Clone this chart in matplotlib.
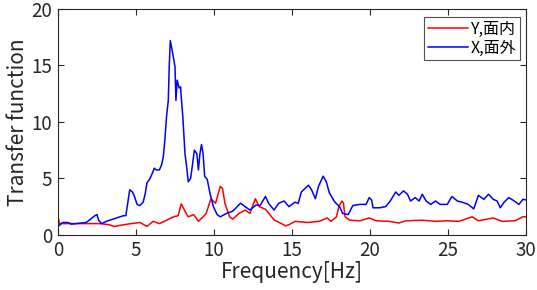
import numpy as np
import matplotlib.pyplot as plt

plt.rcParams['font.family'] = ['Noto Sans CJK JP', 'DejaVu Sans']

# X, out of plane (blue)
freq_x = [0, 0.3, 0.64, 0.86, 1.8, 2.0, 2.36, 2.5, 2.6, 2.8, 3.1, 3.75, 4.2, 4.35, 4.5, 4.6,
          4.77, 4.9, 5.07, 5.25, 5.46, 5.6, 5.7, 5.9, 6.06, 6.17, 6.3, 6.5, 6.64, 6.75, 6.85,
          6.96, 7.07, 7.13, 7.2, 7.35, 7.5, 7.56, 7.64, 7.77, 7.86, 7.9, 8.0, 8.14, 8.25, 8.35,
          8.5, 8.63, 8.74, 8.9, 9.0, 9.1, 9.2, 9.3, 9.4, 9.57, 9.74, 9.96, 10.2, 10.4, 10.8,
          11.2, 11.7, 12.0, 12.3, 12.7, 12.95, 13.3, 13.5, 13.85, 14.15, 14.5, 14.8, 15.2,
          15.4, 15.6, 16.05, 16.25, 16.5, 16.7, 17.0, 17.2, 17.4, 17.75, 18.05, 18.25, 18.6,
          18.9, 19.35, 19.75, 19.95, 20.1, 20.2, 20.6, 21.0, 21.3, 21.65, 21.85, 22.15, 22.4,
          22.6, 22.9, 23.15, 23.35, 23.6, 23.9, 24.2, 24.5, 24.95, 25.25, 25.6, 25.9, 26.3,
          26.65, 26.95, 27.3, 27.6, 27.9, 28.15, 28.35, 28.6, 28.9, 29.25, 29.55, 29.8, 30]
tf_x = [0.74, 1.1, 1.1, 0.95, 1.1, 1.3, 1.7, 1.8, 1.3, 1.0, 1.2, 1.5, 1.7, 1.7, 3.1, 4.0,
        3.8, 3.4, 2.7, 2.6, 2.9, 3.7, 4.6, 5.0, 5.5, 5.9, 5.75, 5.75, 6.2, 6.9, 8.4,
        10.5, 11.9, 14.9, 17.2, 16.1, 14.9, 11.9, 13.7, 13.0, 13.1, 12.2, 10.5, 7.2, 6.0, 4.7,
        5.0, 6.3, 7.5, 7.2, 5.75, 7.2, 8.0, 7.2, 5.2, 4.9, 3.7, 2.5, 1.8, 1.6, 1.9,
        2.1, 2.8, 2.5, 2.2, 2.65, 2.6, 3.4, 2.8, 2.2, 2.8, 3.0, 2.5, 2.9,
        2.8, 3.8, 4.4, 4.0, 3.2, 4.3, 5.2, 4.7, 3.7, 2.9, 2.5, 1.9, 1.8,
        2.6, 2.7, 2.7, 3.3, 3.1, 2.4, 2.4, 2.5, 3.0, 3.8, 3.5, 3.9, 3.6,
        3.0, 3.3, 3.0, 3.6, 3.0, 2.7, 3.0, 2.7, 2.7, 3.4, 3.0, 2.9, 2.7,
        2.3, 3.5, 3.15, 3.6, 3.15, 3.0, 2.4, 2.9, 3.3, 3.0, 2.7, 3.15, 3.1]

# Y, in plane (red)
freq_y = [0, 0.1, 1.2, 2.7, 3.3, 3.6, 4.2, 4.7, 5.25, 5.7, 6.1, 6.5, 6.96, 7.4, 7.7, 7.9,
          8.14, 8.35, 8.7, 9.0, 9.3, 9.5, 9.8, 10.1, 10.4, 10.55, 10.7, 11.0, 11.2, 11.6,
          12.0, 12.3, 12.65, 12.9, 13.3, 13.85, 14.6, 14.8, 15.2, 16.0, 16.75, 17.25, 17.5,
          17.85, 18.0, 18.2, 18.3, 18.4, 18.7, 19.35, 19.95, 20.4, 21.25, 21.85, 22.3,
          23.35, 24.2, 24.85, 25.7, 26.55, 26.95, 27.9, 28.45, 29.3, 29.8, 30]
tf_y = [1.6, 1.0, 1.0, 1.0, 0.9, 0.75, 0.9, 1.0, 1.1, 0.75, 1.2, 1.0, 1.3, 1.6, 1.7, 2.75,
        2.1, 1.6, 1.8, 1.2, 1.6, 1.9, 3.2, 2.8, 4.3, 4.1, 2.8, 1.6, 1.4, 1.9,
        2.2, 1.9, 3.2, 2.5, 2.27, 1.33, 0.8, 0.9, 1.2, 1.1, 1.2, 1.5, 1.2,
        1.6, 2.5, 3.0, 2.8, 1.6, 1.3, 1.25, 1.5, 1.25, 1.2, 1.05, 1.25,
        1.3, 1.2, 1.25, 1.2, 1.6, 1.25, 1.5, 1.2, 1.25, 1.6, 1.6]

fig = plt.figure(figsize=(5.37, 2.9), dpi=100)
ax = fig.add_axes([0.108, 0.19, 0.8715, 0.779])

ax.plot(freq_y, tf_y, color='red', lw=1.1, label='Y,面内')
ax.plot(freq_x, tf_x, color='blue', lw=1.1, label='X,面外')

ax.set_xlim(0, 30)
ax.set_ylim(0, 20)
ax.set_xticks([0, 5, 10, 15, 20, 25, 30])
ax.set_yticks([0, 5, 10, 15, 20])
ax.tick_params(direction='in', top=True, right=True, labelsize=13.5, length=4,
               colors='#262626', pad=4)
for s in ax.spines.values():
    s.set_color('#262626')
    s.set_linewidth(0.8)
ax.set_xlabel('Frequency[Hz]', fontsize=15, labelpad=0, color='#262626')
ax.set_ylabel('Transfer function', fontsize=15, labelpad=2, color='#262626')

leg = ax.legend(loc='upper right', bbox_to_anchor=(0.987, 0.965), borderaxespad=0,
                fontsize=11.5, fancybox=False, handlelength=2.5,
                borderpad=0.25, labelspacing=0.1, handletextpad=0.15)
leg.get_frame().set_edgecolor('#262626')
leg.get_frame().set_linewidth(0.8)

fig.savefig('out.png', dpi=100)
